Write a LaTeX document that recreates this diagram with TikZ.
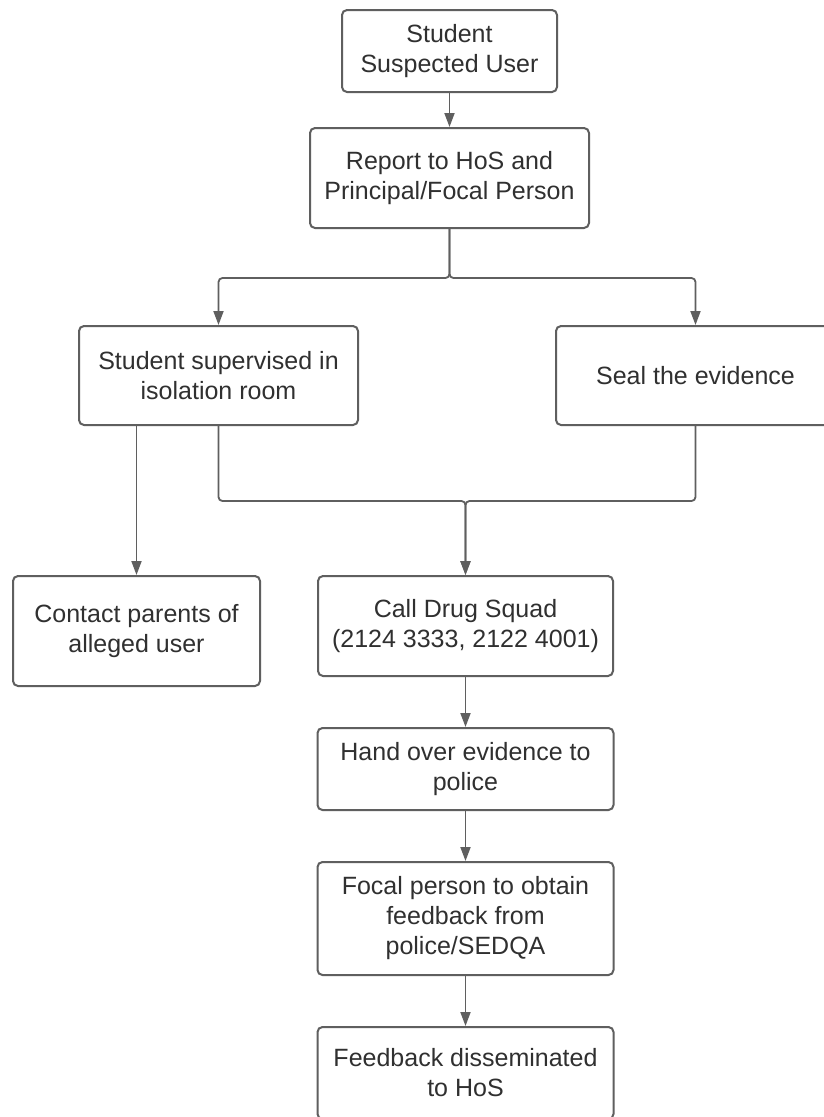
\documentclass[tikz,border=0pt]{standalone}
\usepackage{fontspec}
\setmainfont{Liberation Sans}
\usetikzlibrary{arrows.meta, positioning}
\definecolor{edgegray}{HTML}{5F5F5F}
\definecolor{textgray}{HTML}{303030}

\begin{document}
\begin{tikzpicture}[x=1pt, y=-1pt, node distance=50pt, >={Triangle[length=14pt, width=10pt]},
    box/.style={draw=edgegray, line width=2pt, rounded corners=5pt, fill=white, align=center,
      text=textgray, font=\fontsize{25}{30}\selectfont, inner sep=4pt},
    flow/.style={->, draw=edgegray, line width=1.8pt, rounded corners=4pt}]
    \useasboundingbox (0,0) rectangle (824,1117);
    \clip (0,0) rectangle (824,1117);
    \fill[white] (0,0) rectangle (824,1117);

    % Nodes
    \node[box, minimum width=215pt, minimum height=82pt] (user) at (449.5,51) {Student\\Suspected User};
    \node[box, minimum width=279pt, minimum height=100pt, below=34pt of user] (report) {Report to HoS and\\Principal/Focal Person};
    \node[box, minimum width=279pt, minimum height=99pt] (isolate) at (218.5,375.5) {Student supervised in\\isolation room};
    \node[box, minimum width=279pt, minimum height=99pt] (seal) at (695.5,375.5) {Seal the evidence};
    \node[box, minimum width=247pt, minimum height=110pt] (parents) at (136.5,631) {Contact parents of\\alleged user};
    \node[box, minimum width=295pt, minimum height=100pt] (squad) at (465.5,626) {Call Drug Squad\\(2124 3333, 2122 4001)};
    \node[box, minimum width=296pt, minimum height=82pt, below=of squad] (handover) {Hand over evidence to\\police};
    \node[box, minimum width=296pt, minimum height=113pt, below=of handover] (focal) {Focal person to obtain\\feedback from\\police/SEDQA};
    \node[box, minimum width=296pt, minimum height=92pt, below=of focal] (dissem) {Feedback disseminated\\to HoS};

    % Arrows
    \draw[flow] (user) -- (report);
    \draw[flow] (report.south) -- ++(0,49) -| (isolate.north);
    \draw[flow] (report.south) -- ++(0,49) -| (seal.north);
    \draw[flow] (isolate.south -| parents.north) -- (parents.north);
    \draw[flow] (isolate.south) -- ++(0,75) -| (squad.north);
    \draw[flow] (seal.south) -- ++(0,75) -| (squad.north);
    \draw[flow] (squad) -- (handover);
    \draw[flow] (handover) -- (focal);
    \draw[flow] (focal) -- (dissem);
\end{tikzpicture}
\end{document}
